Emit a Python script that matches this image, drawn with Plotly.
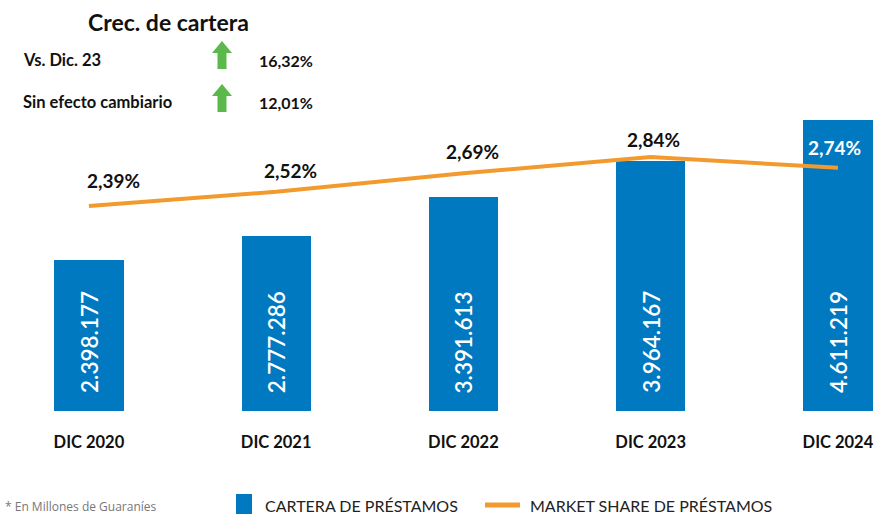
import plotly.graph_objects as go

categories = ["DIC 2020", "DIC 2021", "DIC 2022", "DIC 2023", "DIC 2024"]
cartera = [2398177, 2777286, 3391613, 3964167, 4611219]
cartera_labels = ["2.398.177", "2.777.286", "3.391.613", "3.964.167", "4.611.219"]
market_share = [2.39, 2.52, 2.69, 2.84, 2.74]
share_labels = ["2,39%", "2,52%", "2,69%", "2,84%", "2,74%"]
growth_rows = ["Vs. Dic. 23", "Sin efecto cambiario"]
growth_values = ["16,32%", "12,01%"]
legend_names = ["CARTERA DE PRÉSTAMOS", "MARKET SHARE DE PRÉSTAMOS"]

W, H = 875, 514
PLOT_H = 411  # plot area height (top margin 0)
BLUE = "#0079C1"
ORANGE = "#F39A2E"
GREEN = "#5BB84A"
FONT = "Lato"

def px(x):
    return x / W

def py(y):
    return (PLOT_H - y) / PLOT_H

fig = go.Figure()
fig.add_trace(go.Bar(
    x=categories, y=cartera, name=legend_names[0],
    marker=dict(color=BLUE, line=dict(width=0)), width=0.37,
    hoverinfo="skip",
))
fig.add_trace(go.Scatter(
    x=categories, y=market_share, name=legend_names[1],
    mode="lines", line=dict(color=ORANGE, width=4), yaxis="y2",
    hoverinfo="skip",
))

annotations = []
# values inside bars, vertical
for c, lab in zip(categories, cartera_labels):
    annotations.append(dict(
        x=c, y=0, xref="x", yref="y", text=lab, textangle=-90,
        showarrow=False, yanchor="bottom", xanchor="center", yshift=16,
        font=dict(family=FONT, size=22.5, color="white", weight=600),
    ))
# market share labels
for i, (c, v, lab) in enumerate(zip(categories, market_share, share_labels)):
    annotations.append(dict(
        x=c, y=v, xref="x", yref="y2", text="<b>" + lab + "</b>",
        showarrow=False, yanchor="bottom", xanchor="center",
        yshift=[12, 8, 8, 4, 7][i], xshift=[25, 14, 9, 3, -3][i],
        font=dict(family=FONT, size=19, color="white" if i == 4 else "#111111"),
    ))
# header block
annotations.append(dict(
    x=px(168), y=py(22), xref="paper", yref="paper", text="<b>Crec. de cartera</b>",
    showarrow=False, xanchor="center", yanchor="middle",
    font=dict(family=FONT, size=23, color="#111111"),
))
for row_y, label, val in zip([60, 102], growth_rows, growth_values):
    annotations.append(dict(
        x=px(21), y=py(row_y), xref="paper", yref="paper", text="<b>" + label + "</b>",
        showarrow=False, xanchor="left", yanchor="middle",
        font=dict(family=FONT, size=16.5, color="#111111"),
    ))
    annotations.append(dict(
        x=px(257), y=py(row_y), xref="paper", yref="paper", text="<b>" + val + "</b>",
        showarrow=False, xanchor="left", yanchor="middle",
        font=dict(family=FONT, size=16, color="#111111"),
    ))
# footnote
annotations.append(dict(
    x=px(3), y=py(506), xref="paper", yref="paper", text="* En Millones de Guaraníes",
    showarrow=False, xanchor="left", yanchor="middle",
    font=dict(family="Open Sans", size=12, color="#777777"),
))
# legend texts
for lx, name in zip([263, 528], legend_names):
    annotations.append(dict(
        x=px(lx), y=py(505), xref="paper", yref="paper", text=name,
        showarrow=False, xanchor="left", yanchor="middle",
        font=dict(family=FONT, size=16, color="#222222"),
    ))

shapes = []
for top in [41, 84]:
    bot = top + 28
    cx = 222
    path = (f"M {px(cx-4.5)},{py(bot)} L {px(cx-4.5)},{py(top+12)} L {px(cx-10)},{py(top+12)} "
            f"L {px(cx)},{py(top)} L {px(cx+10)},{py(top+12)} L {px(cx+4.5)},{py(top+12)} "
            f"L {px(cx+4.5)},{py(bot)} Z")
    shapes.append(dict(type="path", path=path, xref="paper", yref="paper",
                       fillcolor=GREEN, line=dict(width=0)))
# legend symbols
shapes.append(dict(type="rect", xref="paper", yref="paper",
                   x0=px(236), x1=px(252), y0=py(514), y1=py(494),
                   fillcolor=BLUE, line=dict(width=0)))
shapes.append(dict(type="line", xref="paper", yref="paper",
                   x0=px(485), x1=px(520), y0=py(505), y1=py(505),
                   line=dict(color=ORANGE, width=5)))

fig.update_layout(
    width=W, height=H,
    margin=dict(l=0, r=0, t=0, b=H - PLOT_H),
    paper_bgcolor="white", plot_bgcolor="white",
    font=dict(family=FONT, color="#111111"),
    bargap=0,
    xaxis=dict(
        type="category", range=[-0.475, 4.198], showgrid=False, zeroline=False,
        showline=False, ticks="", tickfont=dict(family=FONT, size=16.5, color="#111111"),
        tickvals=categories, ticktext=["<b>" + c + "</b>" for c in categories],
        ticklabelstandoff=19,
    ),
    yaxis=dict(range=[0, 6.51e6], visible=False, showgrid=False, zeroline=False),
    yaxis2=dict(range=[0.509, 4.28], overlaying="y", visible=False, showgrid=False, zeroline=False),
    showlegend=False,
    annotations=annotations,
    shapes=shapes,
)

fig.write_html("out.html", config={"displayModeBar": False},
               post_script="document.body.style.margin='0';document.body.style.padding='0';")
